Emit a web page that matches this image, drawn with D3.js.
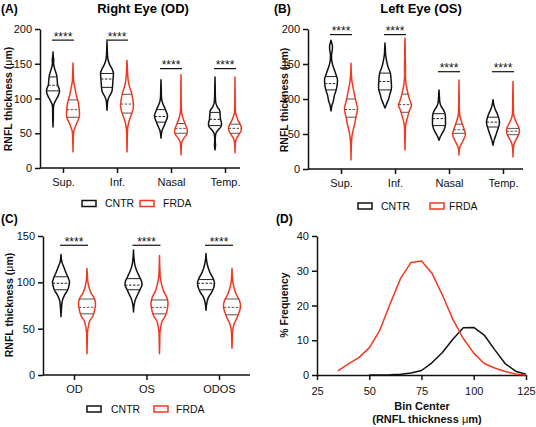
<!DOCTYPE html>
<html><head><meta charset="utf-8">
<script src="https://cdn.jsdelivr.net/npm/d3@7"></script>
<style>body{margin:0;background:#fff} svg{display:block}</style>
</head><body>
<script>
// ---------------- DATA ----------------
const regions = ["Sup.", "Inf.", "Nasal", "Temp."];
const eyes = ["OD", "OS", "ODOS"];
const groupNames = ["CNTR", "FRDA"];

// Violin density profiles: [RNFL thickness (µm), relative density]
const odCNTR = [
  [[59,0],[70,0.04],[85,0.06],[91,0.12],[97,0.4],[103,0.75],[110,1.0],[114,0.95],[120,0.7],[127,0.65],[134,0.55],[143,0.25],[151,0.08],[155,0.12],[160,0.05],[167,0]],
  [[83,0],[90,0.05],[97,0.12],[103,0.35],[110,0.75],[117,0.85],[124,0.9],[130,0.95],[136,1.0],[142,0.8],[148,0.45],[155,0.18],[162,0.08],[172,0.04],[182,0]],
  [[43,0],[50,0.08],[55,0.2],[60,0.45],[66,0.7],[72,0.95],[76,1.0],[80,0.85],[86,0.6],[92,0.3],[98,0.12],[105,0.06],[115,0.04],[127,0]],
  [[26,0],[33,0.08],[38,0.04],[45,0.06],[50,0.15],[55,0.5],[60,0.95],[64,1.0],[70,0.85],[76,0.8],[82,0.75],[88,0.35],[95,0.1],[105,0.05],[118,0.03],[131,0]]
];
const odFRDA = [
  [[23,0],[40,0.04],[52,0.1],[58,0.3],[64,0.55],[70,0.85],[76,1.0],[85,0.95],[95,0.8],[105,0.5],[115,0.3],[125,0.1],[135,0.05],[151,0]],
  [[23,0],[40,0.04],[55,0.08],[67,0.3],[75,0.6],[82,0.85],[90,1.0],[98,0.9],[106,0.75],[115,0.45],[125,0.2],[135,0.1],[145,0.05],[155,0]],
  [[19,0],[30,0.05],[38,0.15],[43,0.45],[48,0.85],[52,1.0],[57,0.9],[62,0.7],[68,0.45],[75,0.2],[85,0.06],[100,0.03],[115,0.02],[134,0]],
  [[22,0],[35,0.06],[42,0.2],[48,0.6],[53,0.9],[57,1.0],[62,0.85],[67,0.55],[73,0.3],[80,0.08],[90,0.04],[110,0.02],[131,0]]
];
const osCNTR = [
  [[83,0],[90,0.12],[97,0.35],[106,0.55],[113,0.8],[120,0.95],[127,1.0],[134,0.8],[142,0.5],[149,0.25],[156,0.1],[163,0.08],[170,0.2],[176,0.22],[180,0.1],[184,0]],
  [[87,0],[93,0.25],[100,0.55],[107,0.75],[113,0.95],[118,1.0],[125,0.95],[132,0.9],[138,0.8],[145,0.5],[150,0.35],[158,0.18],[165,0.08],[172,0.05],[180,0]],
  [[41,0],[46,0.2],[52,0.55],[58,0.85],[64,1.0],[72,1.0],[78,0.95],[84,0.7],[90,0.3],[96,0.12],[104,0.06],[113,0]],
  [[34,0],[42,0.2],[50,0.5],[57,0.75],[63,0.95],[67,1.0],[72,0.9],[78,0.7],[85,0.35],[92,0.12],[99,0]]
];
const osFRDA = [
  [[13,0],[30,0.04],[44,0.12],[52,0.25],[58,0.4],[66,0.6],[74,0.75],[82,0.95],[87,1.0],[95,0.8],[103,0.6],[115,0.35],[125,0.15],[135,0.06],[151,0]],
  [[27,0],[45,0.04],[60,0.08],[68,0.22],[76,0.45],[84,0.7],[91,1.0],[98,0.75],[106,0.5],[115,0.28],[125,0.12],[135,0.06],[145,0.08],[160,0.04],[175,0.03],[187,0]],
  [[20,0],[28,0.06],[34,0.25],[40,0.6],[45,0.85],[50,1.0],[55,0.85],[62,0.6],[70,0.3],[78,0.1],[90,0.05],[105,0.03],[127,0]],
  [[17,0],[30,0.06],[38,0.25],[44,0.6],[50,0.9],[54,1.0],[59,0.9],[65,0.6],[72,0.25],[80,0.08],[95,0.04],[110,0.03],[125,0]]
];
const bothCNTR = [
  [[63,0],[72,0.06],[80,0.15],[86,0.4],[92,0.8],[97,0.95],[100,1.0],[105,0.85],[110,0.6],[116,0.35],[122,0.1],[130,0]],
  [[68,0],[76,0.08],[82,0.25],[88,0.55],[93,0.8],[97,1.0],[101,0.95],[106,0.7],[112,0.4],[118,0.18],[125,0.07],[135,0]],
  [[70,0],[78,0.1],[84,0.3],[89,0.65],[94,0.9],[99,1.0],[104,0.85],[110,0.5],[116,0.25],[123,0.08],[131,0]]
];
const bothFRDA = [
  [[23,0],[35,0.03],[45,0.05],[52,0.15],[58,0.3],[64,0.7],[70,0.9],[76,1.0],[82,0.9],[88,0.5],[95,0.22],[102,0.08],[108,0.04],[115,0]],
  [[23,0],[35,0.03],[45,0.05],[52,0.15],[58,0.3],[64,0.7],[70,0.9],[78,1.0],[84,0.85],[90,0.5],[98,0.25],[105,0.1],[115,0.04],[129,0]],
  [[29,0],[40,0.04],[48,0.08],[55,0.25],[62,0.6],[68,0.85],[74,1.0],[80,0.9],[86,0.55],[93,0.28],[100,0.1],[108,0.04],[115,0]]
];

// Quartiles [Q1, median, Q3]
const odCNTRq = [[111,119,131],[116,128,136],[66,74,84],[61,70,80]];
const odFRDAq = [[73,84,98],[79,92,106],[50,57,64],[50,57,63]];
const osCNTRq = [[113,122,132],[113,125,137],[62,72,79],[60,67,74]];
const osFRDAq = [[74,85,100],[81,92,107],[51,56,64],[49,54,58]];
const bothCNTRq = [[92,99,106],[92,97,104],[92,99,103]];
const bothFRDAq = [[66,73,82],[66,73,81],[65,73,82]];

// Significance bar heights (µm) and labels
const odSig = [184, 184, 143, 143];
const osSig = [192, 192, 139, 139];
const bothSig = [140, 140, 140];
const sigLabel = "****";

// Tick values
const ticks200 = [0, 50, 100, 150, 200];
const ticks150 = [0, 50, 100, 150];
const freqTicks = [0, 10, 20, 30, 40];
const binTicks = [25, 50, 75, 100, 125];

// Frequency distribution (panel D)
const binCenters = [35,40,45,50,55,60,65,70,75,80,85,90,95,100,105,110,115,120,125];
const freqFRDA =   [1.2,3.2,5,7.8,12.8,20.5,27.8,32.4,32.8,29.3,23,16,10.5,6.3,3.3,2,1,0.3,0];
const freqCNTR =   [null,null,null,0,0,0.05,0.2,0.6,1.3,3.5,6.5,10.3,13.6,13.7,11.5,7.3,3.3,1.1,0.2];

// ---------------- STYLE ----------------
const FONT = "'Liberation Sans', Arial, Helvetica, sans-serif";
const BLACK = "#111";
const RED = "#f2381f";
const groupColor = [BLACK, RED];
const qColor = ["#222", "#555"];

const svg = d3.select("body").append("svg")
  .attr("width", 536).attr("height", 427)
  .style("font-family", FONT);

function styleAxis(g) {
  g.selectAll(".domain").attr("stroke", BLACK).attr("stroke-width", 1.5);
  g.selectAll(".tick line").attr("stroke", BLACK).attr("stroke-width", 1.5);
  g.selectAll(".tick text").attr("fill", BLACK).style("font-size", "11px").style("font-family", FONT);
}

function yLabel(x, yc, parts) {
  const t = svg.append("text")
    .attr("transform", `translate(${x},${yc}) rotate(-90)`)
    .attr("text-anchor", "middle")
    .style("font-size", "10.5px").style("font-weight", "bold").attr("fill", BLACK);
  parts.forEach(p => t.append("tspan").text(p[0]).style("font-weight", p[1] ? "bold" : "normal"));
}

function legend(y, x1, t1, x2, t2) {
  [[x1, t1, 0], [x2, t2, 1]].forEach(([bx, tx, i]) => {
    svg.append("rect").attr("x", bx).attr("y", y - 3).attr("width", 14).attr("height", 6)
      .attr("fill", "none").attr("stroke", groupColor[i]).attr("stroke-width", 1.5);
    svg.append("text").attr("x", tx).attr("y", y + 3.8).text(groupNames[i])
      .style("font-size", "10.5px").attr("fill", BLACK);
  });
}

function violinPanel(cfg) {
  const y = d3.scaleLinear().domain(cfg.domain).range([cfg.yBot, cfg.yTop]);
  const x = d3.scalePoint().domain(cfg.cats).range(cfg.catRange);

  const gy = svg.append("g").attr("transform", `translate(${cfg.xAxis},0)`)
    .call(d3.axisLeft(y).tickValues(cfg.ticks).tickSize(5).tickSizeOuter(0).tickPadding(3));
  styleAxis(gy);
  const gx = svg.append("g").attr("transform", `translate(0,${cfg.yBot})`)
    .call(d3.axisBottom(x).tickSize(5).tickSizeOuter(0).tickPadding(5));
  gx.select(".domain").remove();
  styleAxis(gx);
  svg.append("line").attr("x1", cfg.xAxis).attr("x2", cfg.xEnd)
    .attr("y1", cfg.yBot).attr("y2", cfg.yBot).attr("stroke", BLACK).attr("stroke-width", 1.5);

  cfg.series.forEach((s, si) => {
    s.profiles.forEach((prof, i) => {
      const cx = x(cfg.cats[i]) + (si === 0 ? -1 : 1) * cfg.offset;
      const hw = cfg.hw;
      const area = d3.area()
        .y(d => y(d[0]))
        .x0(d => cx - d[1] * hw)
        .x1(d => cx + d[1] * hw)
        .curve(d3.curveMonotoneY);
      svg.append("path").attr("d", area(prof))
        .attr("fill", "none").attr("stroke", groupColor[si]).attr("stroke-width", 1.5)
        .attr("stroke-linejoin", "round");
      const widthAt = d3.scaleLinear().domain(prof.map(d => d[0])).range(prof.map(d => d[1]));
      s.quart[i].forEach((q, k) => {
        const w = widthAt(q) * hw;
        svg.append("line")
          .attr("x1", cx - w).attr("x2", cx + w)
          .attr("y1", y(q)).attr("y2", y(q))
          .attr("stroke", qColor[si]).attr("stroke-width", 1)
          .attr("stroke-dasharray", k === 1 ? "2.5,1.5" : null);
      });
    });
  });

  cfg.sig.forEach((v, i) => {
    const xc = x(cfg.cats[i]);
    const sy = y(v);
    svg.append("line").attr("x1", xc - cfg.sigHalf).attr("x2", xc + cfg.sigHalf)
      .attr("y1", sy).attr("y2", sy).attr("stroke", BLACK).attr("stroke-width", 1.2);
    svg.append("text").attr("x", xc).attr("y", sy + 0.5).attr("text-anchor", "middle")
      .style("font-size", "12px").attr("fill", BLACK).text(sigLabel);
  });
}

// Panel A
svg.append("text").attr("x", 1).attr("y", 13).text("(A)").style("font-size", "12px").style("font-weight", "bold");
svg.append("text").attr("x", 143).attr("y", 13).attr("text-anchor", "middle").text("Right Eye (OD)")
  .style("font-size", "13px").style("font-weight", "bold");
violinPanel({domain:[0,200], ticks: ticks200, yTop:29, yBot:168, xAxis:40, xEnd:240,
  cats: regions, catRange:[63,225], offset:10, hw:6.5, sigHalf:11,
  series:[{profiles: odCNTR, quart: odCNTRq},{profiles: odFRDA, quart: odFRDAq}], sig: odSig});
yLabel(12, 99, [["RNFL thickness (",1],["μ",0],["m)",1]]);
legend(203.5, 82, 105, 140, 163);

// Panel B
svg.append("text").attr("x", 274).attr("y", 13).text("(B)").style("font-size", "12px").style("font-weight", "bold");
svg.append("text").attr("x", 421).attr("y", 13).attr("text-anchor", "middle").text("Left Eye (OS)")
  .style("font-size", "13px").style("font-weight", "bold");
violinPanel({domain:[0,200], ticks: ticks200, yTop:29, yBot:169, xAxis:308, xEnd:523,
  cats: regions, catRange:[341,503], offset:10, hw:6.5, sigHalf:11,
  series:[{profiles: osCNTR, quart: osCNTRq},{profiles: osFRDA, quart: osFRDAq}], sig: osSig});
yLabel(288, 100, [["RNFL thickness (",1],["μ",0],["m)",1]]);
legend(206, 358, 381, 430, 449);

// Panel C
svg.append("text").attr("x", 1).attr("y", 223).text("(C)").style("font-size", "12px").style("font-weight", "bold");
violinPanel({domain:[0,150], ticks: ticks150, yTop:236, yBot:375, xAxis:43, xEnd:250,
  cats: eyes, catRange:[74,219], offset:13, hw:8.5, sigHalf:14,
  series:[{profiles: bothCNTR, quart: bothCNTRq},{profiles: bothFRDA, quart: bothFRDAq}], sig: bothSig});
yLabel(13, 305, [["RNFL thickness (",1],["μ",0],["m)",1]]);
legend(409, 87, 111, 154, 176);

// Panel D
svg.append("text").attr("x", 276).attr("y", 223).text("(D)").style("font-size", "12px").style("font-weight", "bold");
{
  const x = d3.scaleLinear().domain([25,125]).range([317,526]);
  const y = d3.scaleLinear().domain([0,40]).range([375,236]);
  const gy = svg.append("g").attr("transform", "translate(317,0)")
    .call(d3.axisLeft(y).tickValues(freqTicks).tickSize(5).tickSizeOuter(0).tickPadding(3));
  styleAxis(gy);
  const gx = svg.append("g").attr("transform", "translate(0,375)")
    .call(d3.axisBottom(x).tickValues(binTicks).tickSize(5).tickSizeOuter(0).tickPadding(7));
  styleAxis(gx);
  const line = d3.line().defined(d => d[1] !== null).x(d => x(d[0])).y(d => y(d[1]));
  svg.append("path").attr("d", line(binCenters.map((b,i)=>[b,freqCNTR[i]])))
    .attr("fill","none").attr("stroke",BLACK).attr("stroke-width",1.5).attr("stroke-linejoin","round");
  svg.append("path").attr("d", line(binCenters.map((b,i)=>[b,freqFRDA[i]])))
    .attr("fill","none").attr("stroke",RED).attr("stroke-width",1.5).attr("stroke-linejoin","round");
  svg.append("text").attr("transform","translate(288,305) rotate(-90)").attr("text-anchor","middle")
    .style("font-size","10.5px").style("font-weight","bold").attr("fill",BLACK).text("% Frequency");
  svg.append("text").attr("x",422).attr("y",410).attr("text-anchor","middle")
    .style("font-size","11px").style("font-weight","bold").attr("fill",BLACK).text("Bin Center");
  const t = svg.append("text").attr("x",427).attr("y",423).attr("text-anchor","middle")
    .style("font-size","11px").style("font-weight","bold").attr("fill",BLACK);
  t.append("tspan").text("(RNFL thickness ");
  t.append("tspan").text("μ").style("font-weight","normal");
  t.append("tspan").text("m)");
}
</script>
</body></html>
